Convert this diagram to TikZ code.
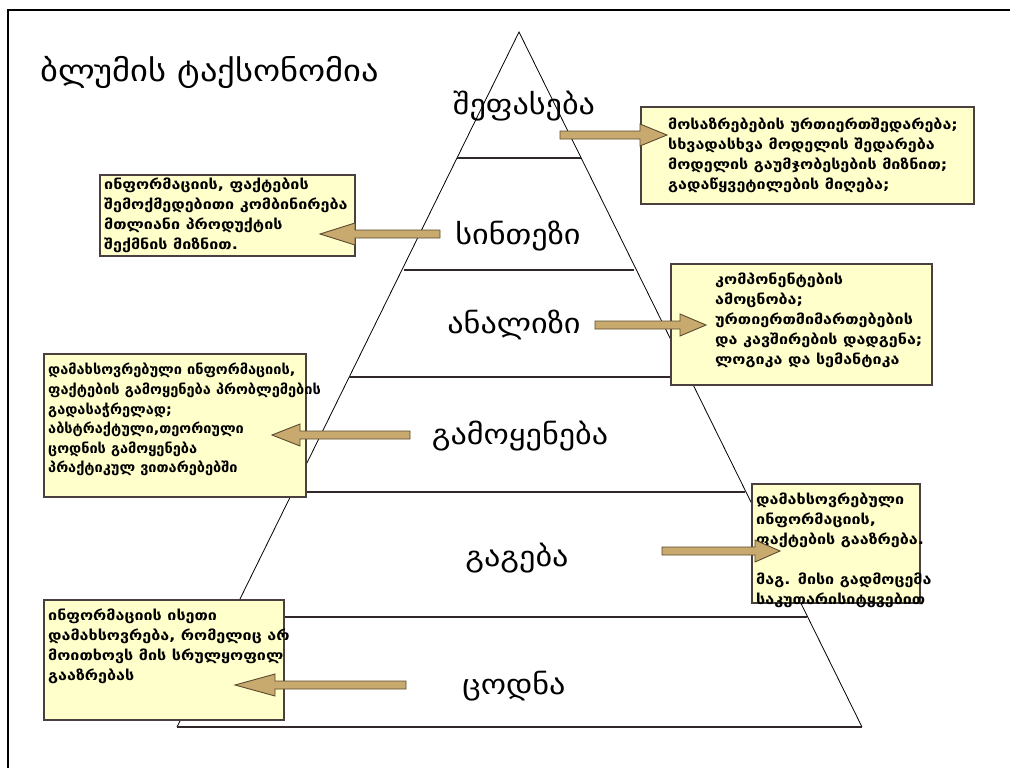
\documentclass[tikz,border=0pt]{standalone}
\usepackage{fontspec}
\setmainfont{DejaVu Sans}
\newfontfamily\geo[FakeStretch=1.15]{DejaVu Sans}
\newfontfamily\geonarrow[FakeStretch=1.04]{DejaVu Sans}
\definecolor{boxfill}{HTML}{FFFFCC}
\definecolor{boxline}{HTML}{4A4040}
\definecolor{arrfill}{HTML}{C8A96E}
\definecolor{arrline}{HTML}{5A4A30}
\definecolor{tierline}{HTML}{302828}
\tikzset{
  tier/.style={draw=tierline, line width=1.1pt},
  side/.style={draw=black, line width=0.8pt},
  infobox/.style={draw=boxline, fill=boxfill, line width=1.1pt},
  infotext/.style={anchor=north west, align=left, inner sep=0pt, font=\geo\bfseries\fontsize{14}{20}\selectfont},
  level/.style={font=\geo\fontsize{28}{32}\selectfont, inner sep=0pt},
  barrow/.style={draw=arrline, fill=arrfill, line width=0.9pt, line join=miter},
}
\newcommand\barr[4]{%
  \filldraw[barrow] (#1,#4-4) -- (#2,#4-4) -- (#2,#4-11) -- (#3,#4) -- (#2,#4+11) -- (#2,#4+4) -- (#1,#4+4) -- cycle;}
\begin{document}
\begin{tikzpicture}[x=1pt,y=-1pt]
\useasboundingbox (0,0) rectangle (1010,768);
\fill[white] (0,0) rectangle (1010,768);
% frame
\draw[line width=1.5pt] (1010,10) -- (8,10) -- (8,768);
% title
\node[anchor=west, font=\geo\fontsize{30}{34}\selectfont, inner sep=0pt] (title) at (40,72) {ბლუმის ტაქსონომია};
% pyramid
\coordinate (apex) at (519,32);
\coordinate (bl) at (177,727);
\coordinate (br) at (862,727);
\draw[side] (bl) -- (apex) -- (br);
\draw[tier] (bl) -- (br);
\draw[tier] (457,158) -- (581,158);
\draw[tier] (404,270) -- (634,270);
\draw[tier] (349,377) -- (689,377);
\draw[tier] (293,492) -- (745,492);
\draw[tier] (231,617) -- (807,617);
% level labels
\node[level] (l1) at (524,106) {შეფასება};
\node[level] (l2) at (518,236) {სინთეზი};
\node[level] (l3) at (514,325) {ანალიზი};
\node[level] (l4) at (520,436) {გამოყენება};
\node[level] (l5) at (517,558) {გაგება};
\node[level] (l6) at (514,686) {ცოდნა};
% boxes
\draw[infobox] (641,107) rectangle (974,204);
\node[infotext] (t1) at (668,118) {მოსაზრებების ურთიერთშედარება;\\სხვადასხვა მოდელის შედარება\\მოდელის გაუმჯობესების მიზნით;\\გადაწყვეტილების მიღება;};
\draw[infobox] (100,175) rectangle (355,256);
\node[infotext] (t2) at (104,178) {ინფორმაციის, ფაქტების\\შემოქმედებითი კომბინირება\\მთლიანი პროდუქტის\\შექმნის მიზნით.};
\draw[infobox] (671,264) rectangle (932,385);
\node[infotext] (t3) at (715,273) {კომპონენტების\\ამოცნობა;\\ურთიერთმიმართებების\\და კავშირების დადგენა;\\ლოგიკა და სემანტიკა};
\draw[infobox] (44,354) rectangle (306,497);
\node[infotext, font=\geonarrow\bfseries\fontsize{14}{19.6}\selectfont] (t4) at (48,363) {დამახსოვრებული ინფორმაციის,\\ფაქტების გამოყენება პრობლემების\\გადასაჭრელად;\\აბსტრაქტული,თეორიული\\ცოდნის გამოყენება\\პრაქტიკულ ვითარებებში};
\draw[infobox] (752,484) rectangle (920,603);
\node[infotext] (t5) at (756,493) {დამახსოვრებული\\ინფორმაციის,\\ფაქტების გააზრება.\\[20pt]მაგ. მისი გადმოცემა\\საკუთარისიტყვებით};
\draw[infobox] (44,600) rectangle (284,720);
\node[infotext] (t6) at (48,609) {ინფორმაციის ისეთი\\დამახსოვრება, რომელიც არ\\მოითხოვს მის სრულყოფილ\\გააზრებას};
% arrows
\barr{560}{640}{667}{135}
\barr{440}{355}{320}{234}
\barr{595}{680}{706}{325}
\barr{410}{300}{272}{435}
\barr{662}{755}{780}{551}
\barr{406}{275}{235}{685}
\end{tikzpicture}
\end{document}
